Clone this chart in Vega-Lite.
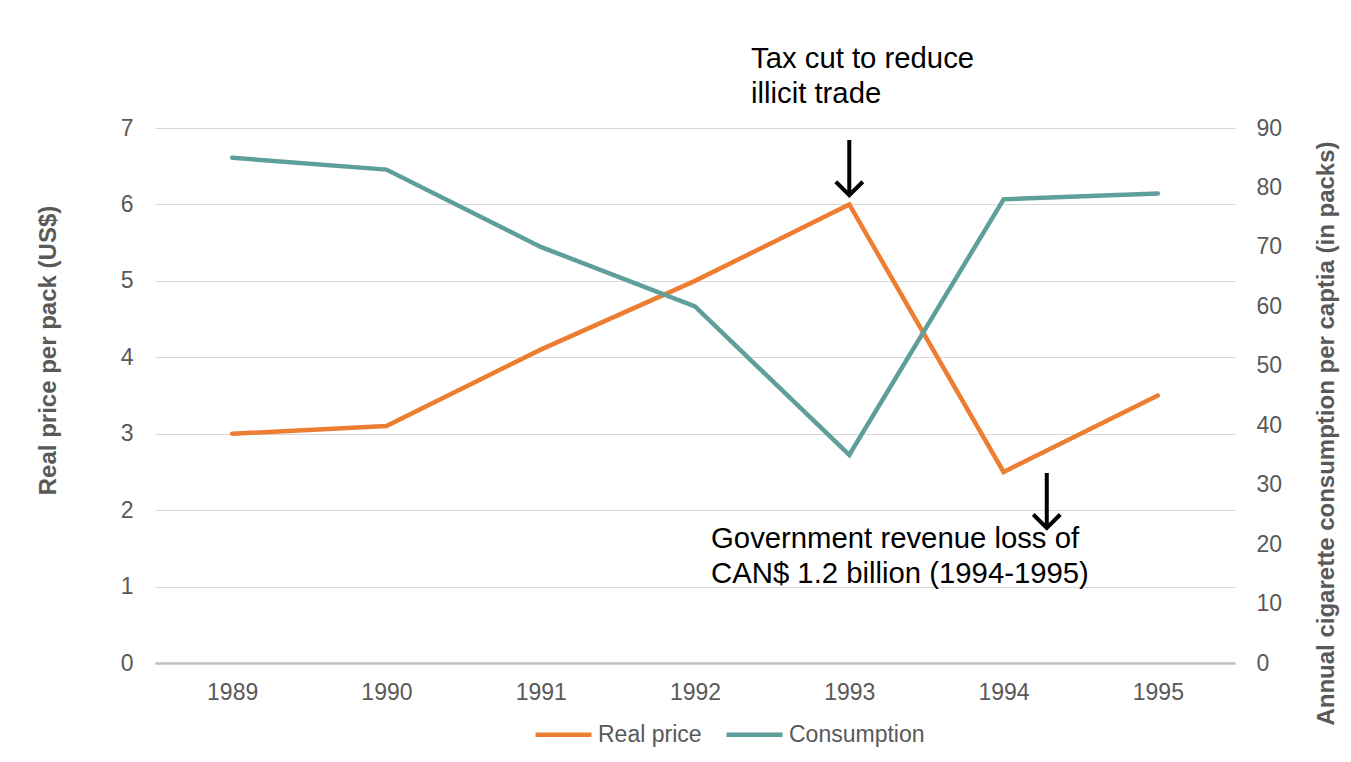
{
  "$schema": "https://vega.github.io/schema/vega-lite/v6.json",
  "width": 1080,
  "height": 535,
  "autosize": {"type": "none"},
  "padding": {"left": 155, "top": 128, "right": 116, "bottom": 99},
  "background": "white",
  "config": {
    "font": "Liberation Sans",
    "view": {"stroke": null},
    "axis": {
      "labelFont": "Liberation Sans",
      "titleFont": "Liberation Sans",
      "labelColor": "#595959",
      "labelFontSize": 23,
      "titleColor": "#595959",
      "titleFontSize": 24,
      "titleFontWeight": "bold",
      "ticks": false,
      "domain": false,
      "gridColor": "#D9D9D9",
      "gridWidth": 1
    },
    "legend": {"labelFont": "Liberation Sans"}
  },
  "datasets": {
    "series": [
      {"year": 1989, "price": 3.0, "consumption": 85},
      {"year": 1990, "price": 3.1, "consumption": 83},
      {"year": 1991, "price": 4.1, "consumption": 70},
      {"year": 1992, "price": 5.0, "consumption": 60},
      {"year": 1993, "price": 6.0, "consumption": 35},
      {"year": 1994, "price": 2.5, "consumption": 78},
      {"year": 1995, "price": 3.5, "consumption": 79}
    ],
    "arrows": [
      {"x": 1993.0, "y": 6.843, "y2": 6.12},
      {"x": 1994.28, "y": 2.486, "y2": 1.766}
    ],
    "notes": [
      {"x": 1992.363, "y": 7.785, "label": "Tax cut to reduce\nillicit trade"},
      {"x": 1992.104, "y": 1.505, "label": "Government revenue loss of\nCAN$ 1.2 billion (1994-1995)"}
    ]
  },
  "layer": [
    {
      "layer": [
        {
          "data": {"name": "series"},
          "mark": {"type": "line", "strokeWidth": 4.5, "strokeCap": "round"},
          "encoding": {
            "x": {
              "field": "year",
              "type": "quantitative",
              "scale": {"domain": [1988.5, 1995.5], "nice": false, "zero": false},
              "axis": {
                "values": [1989, 1990, 1991, 1992, 1993, 1994, 1995],
                "format": "d",
                "grid": false,
                "domain": true,
                "domainColor": "#BFBFBF",
                "domainWidth": 2.5,
                "labelPadding": 18,
                "labelFlush": false,
                "title": null
              }
            },
            "y": {
              "field": "price",
              "type": "quantitative",
              "scale": {"domain": [0, 7], "nice": false},
              "axis": {
                "values": [0, 1, 2, 3, 4, 5, 6, 7],
                "format": "d",
                "grid": true,
                "labelPadding": 22,
                "title": "Real price per pack (US$)",
                "titleAngle": -90,
                "titleX": -107,
                "titleY": 222,
                "titleAlign": "center",
                "titleBaseline": "middle"
              }
            },
            "color": {
              "datum": "Real price",
              "scale": {"domain": ["Real price", "Consumption"], "range": ["#ED7D31", "#5E9E9B"]},
              "legend": {
                "orient": "none",
                "legendX": 378,
                "legendY": 576,
                "direction": "horizontal",
                "title": null,
                "symbolType": "stroke",
                "symbolSize": 3136,
                "symbolStrokeWidth": 4.5,
                "labelFontSize": 23,
                "labelColor": "#595959",
                "labelOffset": 4,
                "columnPadding": 15,
                "padding": 0
              }
            }
          }
        },
        {
          "data": {"name": "arrows"},
          "mark": {"type": "rule", "strokeWidth": 4, "color": "black"},
          "encoding": {
            "x": {"field": "x", "type": "quantitative"},
            "y": {"field": "y", "type": "quantitative", "scale": {"domain": [0, 7], "nice": false}},
            "y2": {"field": "y2"}
          }
        },
        {
          "data": {"name": "arrows"},
          "mark": {"type": "point", "shape": "M-1,-1L0,0L1,-1", "filled": false, "stroke": "black", "strokeWidth": 4, "size": 729, "opacity": 1},
          "encoding": {
            "x": {"field": "x", "type": "quantitative"},
            "y": {"field": "y2", "type": "quantitative", "scale": {"domain": [0, 7], "nice": false}}
          }
        },
        {
          "data": {"name": "notes"},
          "mark": {"type": "text", "align": "left", "baseline": "alphabetic", "fontSize": 29.3, "lineHeight": 35, "lineBreak": "\n", "color": "black", "font": "Liberation Sans"},
          "encoding": {
            "x": {"field": "x", "type": "quantitative"},
            "y": {"field": "y", "type": "quantitative", "scale": {"domain": [0, 7], "nice": false}},
            "text": {"field": "label", "type": "nominal"}
          }
        }
      ]
    },
    {
      "data": {"name": "series"},
      "mark": {"type": "line", "strokeWidth": 4.5, "strokeCap": "round"},
      "encoding": {
        "x": {"field": "year", "type": "quantitative"},
        "y": {
          "field": "consumption",
          "type": "quantitative",
          "scale": {"domain": [0, 90], "nice": false},
          "axis": {
            "orient": "right",
            "values": [0, 10, 20, 30, 40, 50, 60, 70, 80, 90],
            "grid": false,
            "labelPadding": 21,
            "title": "Annual cigarette consumption per captia (in packs)",
            "titleAngle": -90,
            "titleX": 91,
            "titleY": 305,
            "titleAlign": "center",
            "titleBaseline": "middle"
          }
        },
        "color": {"datum": "Consumption"}
      }
    }
  ],
  "resolve": {"scale": {"y": "independent"}}
}
